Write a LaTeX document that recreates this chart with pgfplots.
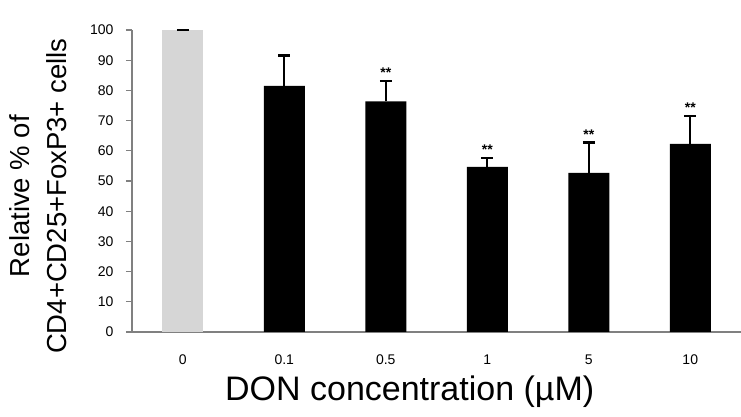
\documentclass[border=0pt]{standalone}
\usepackage{pgfplots}
\pgfplotsset{compat=1.18}
\usepackage{fontspec}
\setmainfont{Liberation Sans}

\definecolor{ctrlgray}{RGB}{214,214,214}
\definecolor{axisgray}{RGB}{128,128,128}

\begin{document}
\begin{tikzpicture}
% fixed canvas: 741 x 417 with the axis box at (0,0)--(609,302)
\useasboundingbox (-132pt,-85pt) rectangle (609pt,332pt);
\begin{axis}[
  scale only axis,
  width=609pt, height=302pt,
  xmin=-0.5, xmax=5.5,
  ymin=0, ymax=100,
  axis lines*=left,
  axis line style={draw=axisgray, line width=1.2pt},
  xtick={0,1,2,3,4,5},
  xticklabels={0,0.1,0.5,1,5,10},
  xtick style={draw=none},
  ytick={0,10,...,100},
  ytick style={draw=axisgray, line width=1.2pt},
  tick align=outside,
  major tick length=6pt,
  /pgf/number format/assume math mode=true,
  tick label style={font=\fontsize{14}{14}\selectfont},
  xticklabel style={yshift=-13pt},
  yticklabel style={xshift=-9pt},
  every axis y label/.style={at={(axis description cs:-0.1544,0.45)}, rotate=90, anchor=center,
    align=center, font=\fontsize{27.5}{37}\selectfont},
  every axis x label/.style={at={(axis description cs:0.456,-0.199)}, anchor=center,
    font=\fontsize{34}{34}\selectfont},
  ylabel={Relative \% of\\CD4+CD25+FoxP3+ cells},
  xlabel={DON concentration (µM)},
  clip=false,
]
% untreated control
\addplot[ybar, bar width=41pt, bar shift=0pt, fill=ctrlgray, draw=none,
  error bars/.cd, y dir=plus, y explicit,
  error bar style={line width=2.4pt, black},
  error mark options={rotate=90, mark size=6pt, line width=2.4pt, black}]
  coordinates {(0,100) +- (0,0.01)};
% DON-treated groups
\addplot[ybar, bar width=41pt, bar shift=0pt, fill=black, draw=none,
  error bars/.cd, y dir=plus, y explicit,
  error bar style={line width=2.4pt, black},
  error mark options={rotate=90, mark size=6pt, line width=2.4pt, black}]
  coordinates {
    (1,81.5) +- (0,10.0)
    (2,76.4) +- (0,6.8)
    (3,54.7) +- (0,3.0)
    (4,52.7) +- (0,10.0)
    (5,62.3) +- (0,9.3)
  };
% significance marks above the error bars
\addplot[draw=none, mark=none, nodes near coords, point meta=explicit symbolic,
  every node near coord/.style={anchor=south, inner sep=0pt, yshift=3pt,
    font=\bfseries\fontsize{14}{14}\selectfont}]
  coordinates {
    (2,83.2) [**]
    (3,57.7) [**]
    (4,62.7) [**]
    (5,71.6) [**]
  };
\end{axis}
\end{tikzpicture}
\end{document}
